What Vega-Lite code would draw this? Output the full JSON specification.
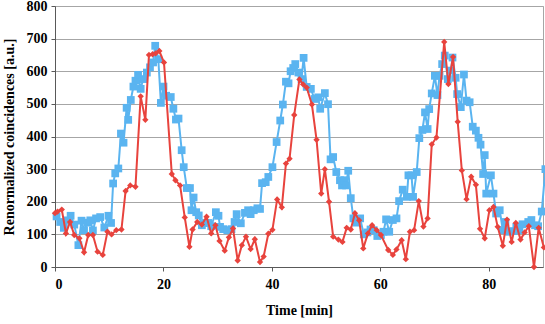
{
  "$schema": "https://vega.github.io/schema/vega-lite/v6.json",
  "autosize": "none",
  "width": 488,
  "height": 261,
  "padding": {"left": 55, "top": 6, "right": 2, "bottom": 57},
  "config": {
    "view": {"stroke": "#a6a6a6", "strokeWidth": 1},
    "font": "Liberation Serif"
  },
  "datasets": {
    "blue": [
      {"t":0.29,"v":155},{"t":0.96,"v":138},{"t":1.63,"v":120},{"t":2.21,"v":143},{"t":2.88,"v":157},{"t":3.55,"v":130},{"t":4.31,"v":67},{"t":4.89,"v":142},{"t":5.36,"v":113},{"t":6.03,"v":136},{"t":6.51,"v":143},{"t":6.99,"v":112},{"t":7.57,"v":149},{"t":8.33,"v":153},{"t":9.10,"v":121},{"t":9.86,"v":157},{"t":10.34,"v":135},{"t":10.72,"v":256},{"t":11.11,"v":287},{"t":11.68,"v":302},{"t":12.16,"v":409},{"t":12.64,"v":381},{"t":13.21,"v":488},{"t":13.50,"v":451},{"t":13.98,"v":512},{"t":14.46,"v":553},{"t":14.84,"v":571},{"t":15.32,"v":589},{"t":15.80,"v":546},{"t":16.27,"v":576},{"t":16.94,"v":596},{"t":17.52,"v":612},{"t":18.09,"v":627},{"t":18.48,"v":678},{"t":19.05,"v":637},{"t":19.53,"v":503},{"t":20.01,"v":553},{"t":20.49,"v":525},{"t":21.35,"v":521},{"t":21.83,"v":485},{"t":22.30,"v":452},{"t":22.78,"v":455},{"t":23.36,"v":358},{"t":23.74,"v":306},{"t":24.31,"v":242},{"t":24.89,"v":242},{"t":25.17,"v":174},{"t":25.56,"v":213},{"t":26.04,"v":168},{"t":26.51,"v":158},{"t":27.09,"v":128},{"t":27.66,"v":135},{"t":28.24,"v":135},{"t":28.81,"v":125},{"t":29.67,"v":168},{"t":30.15,"v":157},{"t":30.44,"v":123},{"t":31.01,"v":116},{"t":31.78,"v":113},{"t":32.54,"v":116},{"t":33.12,"v":138},{"t":33.50,"v":162},{"t":34.27,"v":134},{"t":35.03,"v":166},{"t":35.61,"v":174},{"t":36.08,"v":162},{"t":36.66,"v":174},{"t":37.33,"v":180},{"t":37.81,"v":178},{"t":38.19,"v":257},{"t":38.86,"v":260},{"t":39.34,"v":276},{"t":40.10,"v":306},{"t":40.87,"v":383},{"t":41.54,"v":449},{"t":42.02,"v":498},{"t":42.59,"v":568},{"t":43.07,"v":563},{"t":43.45,"v":600},{"t":43.93,"v":610},{"t":44.31,"v":622},{"t":44.89,"v":596},{"t":45.46,"v":576},{"t":45.85,"v":641},{"t":46.42,"v":552},{"t":47.19,"v":546},{"t":47.86,"v":515},{"t":48.53,"v":520},{"t":48.91,"v":485},{"t":49.77,"v":533},{"t":50.35,"v":499},{"t":50.82,"v":330},{"t":51.30,"v":337},{"t":51.88,"v":291},{"t":52.55,"v":266},{"t":52.93,"v":250},{"t":53.41,"v":266},{"t":53.69,"v":250},{"t":54.08,"v":295},{"t":54.55,"v":211},{"t":55.03,"v":149},{"t":55.61,"v":136},{"t":56.28,"v":149},{"t":56.95,"v":100},{"t":57.62,"v":106},{"t":58.19,"v":115},{"t":58.77,"v":113},{"t":59.44,"v":95},{"t":60.11,"v":98},{"t":60.58,"v":108},{"t":61.06,"v":146},{"t":61.64,"v":108},{"t":62.31,"v":144},{"t":62.98,"v":149},{"t":63.46,"v":202},{"t":64.13,"v":237},{"t":64.89,"v":215},{"t":65.18,"v":281},{"t":65.75,"v":281},{"t":66.04,"v":215},{"t":66.71,"v":291},{"t":67.19,"v":395},{"t":67.76,"v":420},{"t":68.24,"v":474},{"t":68.72,"v":423},{"t":69.01,"v":484},{"t":69.48,"v":532},{"t":70.06,"v":586},{"t":70.54,"v":527},{"t":70.92,"v":586},{"t":71.40,"v":622},{"t":71.88,"v":648},{"t":72.45,"v":576},{"t":73.02,"v":602},{"t":73.31,"v":642},{"t":73.89,"v":580},{"t":74.17,"v":530},{"t":74.84,"v":490},{"t":75.42,"v":590},{"t":75.90,"v":510},{"t":76.47,"v":505},{"t":77.04,"v":430},{"t":77.62,"v":418},{"t":78.10,"v":396},{"t":78.48,"v":375},{"t":78.96,"v":285},{"t":79.25,"v":343},{"t":79.53,"v":225},{"t":80.39,"v":281},{"t":80.87,"v":225},{"t":81.35,"v":164},{"t":82.02,"v":174},{"t":82.59,"v":113},{"t":83.07,"v":138},{"t":83.74,"v":108},{"t":84.51,"v":110},{"t":85.08,"v":123},{"t":85.66,"v":113},{"t":86.23,"v":131},{"t":87.28,"v":138},{"t":87.86,"v":144},{"t":88.53,"v":128},{"t":89.10,"v":125},{"t":89.77,"v":170},{"t":90.44,"v":300}
    ],
    "red": [
      {"t":0.0,"v":165},{"t":0.48,"v":170},{"t":1.25,"v":176},{"t":2.02,"v":103},{"t":2.78,"v":138},{"t":3.55,"v":98},{"t":4.50,"v":88},{"t":5.36,"v":45},{"t":6.13,"v":98},{"t":6.99,"v":98},{"t":7.85,"v":47},{"t":8.81,"v":37},{"t":9.67,"v":108},{"t":10.44,"v":100},{"t":11.30,"v":113},{"t":12.26,"v":115},{"t":13.02,"v":233},{"t":13.88,"v":250},{"t":14.84,"v":246},{"t":15.80,"v":523},{"t":16.66,"v":451},{"t":17.33,"v":650},{"t":18.00,"v":652},{"t":18.57,"v":655},{"t":19.24,"v":662},{"t":20.10,"v":627},{"t":21.54,"v":285},{"t":22.21,"v":266},{"t":23.07,"v":250},{"t":23.93,"v":152},{"t":24.79,"v":62},{"t":25.37,"v":115},{"t":26.23,"v":138},{"t":27.09,"v":130},{"t":27.95,"v":154},{"t":28.81,"v":103},{"t":29.58,"v":128},{"t":30.34,"v":80},{"t":31.30,"v":50},{"t":32.07,"v":91},{"t":32.83,"v":118},{"t":33.69,"v":20},{"t":34.46,"v":67},{"t":35.22,"v":93},{"t":36.08,"v":55},{"t":36.85,"v":85},{"t":37.81,"v":15},{"t":38.48,"v":32},{"t":39.34,"v":102},{"t":40.10,"v":114},{"t":40.97,"v":207},{"t":41.83,"v":183},{"t":42.59,"v":317},{"t":43.26,"v":332},{"t":44.12,"v":466},{"t":45.08,"v":575},{"t":45.75,"v":560},{"t":46.42,"v":550},{"t":47.38,"v":498},{"t":48.24,"v":390},{"t":49.10,"v":225},{"t":49.77,"v":300},{"t":50.54,"v":200},{"t":51.30,"v":93},{"t":52.26,"v":84},{"t":53.02,"v":77},{"t":53.79,"v":120},{"t":54.55,"v":115},{"t":55.32,"v":165},{"t":56.09,"v":143},{"t":56.85,"v":57},{"t":57.71,"v":103},{"t":58.48,"v":128},{"t":59.34,"v":113},{"t":60.11,"v":98},{"t":61.45,"v":52},{"t":62.31,"v":37},{"t":62.98,"v":54},{"t":63.93,"v":82},{"t":64.70,"v":24},{"t":65.46,"v":108},{"t":66.23,"v":113},{"t":67.09,"v":202},{"t":67.95,"v":124},{"t":68.72,"v":149},{"t":69.48,"v":376},{"t":70.35,"v":397},{"t":71.78,"v":690},{"t":72.55,"v":561},{"t":73.41,"v":644},{"t":74.27,"v":445},{"t":75.03,"v":296},{"t":75.90,"v":208},{"t":76.76,"v":277},{"t":77.62,"v":252},{"t":78.38,"v":117},{"t":79.25,"v":88},{"t":80.11,"v":174},{"t":80.87,"v":184},{"t":81.64,"v":123},{"t":82.59,"v":65},{"t":83.36,"v":145},{"t":84.22,"v":77},{"t":84.99,"v":135},{"t":85.85,"v":84},{"t":86.61,"v":106},{"t":87.38,"v":125},{"t":88.34,"v":0},{"t":89.20,"v":120},{"t":90.16,"v":60}
    ]
  },
  "encoding": {
    "x": {
      "field": "t", "type": "quantitative",
      "scale": {"domain": [0, 90], "nice": false, "zero": false},
      "axis": {
        "title": "Time [min]",
        "values": [0, 20, 40, 60, 80],
        "grid": false,
        "domainColor": "#595959",
        "tickColor": "#595959",
        "tickSize": 4,
        "labelFont": "Liberation Serif",
        "labelFontWeight": "bold",
        "labelFontSize": 14,
        "labelColor": "#000000",
        "labelPadding": 6,
        "titleFont": "Liberation Serif",
        "titleFontWeight": "bold",
        "titleFontSize": 14,
        "titleColor": "#000000",
        "titlePadding": 12
      }
    },
    "y": {
      "field": "v", "type": "quantitative",
      "scale": {"domain": [0, 800], "nice": false},
      "axis": {
        "title": "Renormalized coincidences [a.u.]",
        "values": [0, 100, 200, 300, 400, 500, 600, 700, 800],
        "grid": true,
        "gridColor": "#a6a6a6",
        "gridWidth": 1,
        "domainColor": "#595959",
        "tickColor": "#595959",
        "tickSize": 4,
        "labelFont": "Liberation Serif",
        "labelFontWeight": "bold",
        "labelFontSize": 14,
        "labelColor": "#000000",
        "labelPadding": 4,
        "titleFont": "Liberation Serif",
        "titleFontWeight": "bold",
        "titleFontSize": 14,
        "titleColor": "#000000",
        "titlePadding": 10
      }
    }
  },
  "layer": [
    {"data": {"name": "blue"}, "mark": {"type": "line", "color": "#5AB4F0", "strokeWidth": 2, "clip": false}},
    {"data": {"name": "blue"}, "mark": {"type": "point", "shape": "square", "filled": true, "size": 60, "color": "#5AB4F0", "opacity": 1, "clip": false}},
    {"data": {"name": "red"}, "mark": {"type": "line", "color": "#E8433D", "strokeWidth": 2, "clip": false}},
    {"data": {"name": "red"}, "mark": {"type": "point", "shape": "diamond", "filled": true, "size": 40, "color": "#E8433D", "opacity": 1, "clip": false}}
  ]
}
